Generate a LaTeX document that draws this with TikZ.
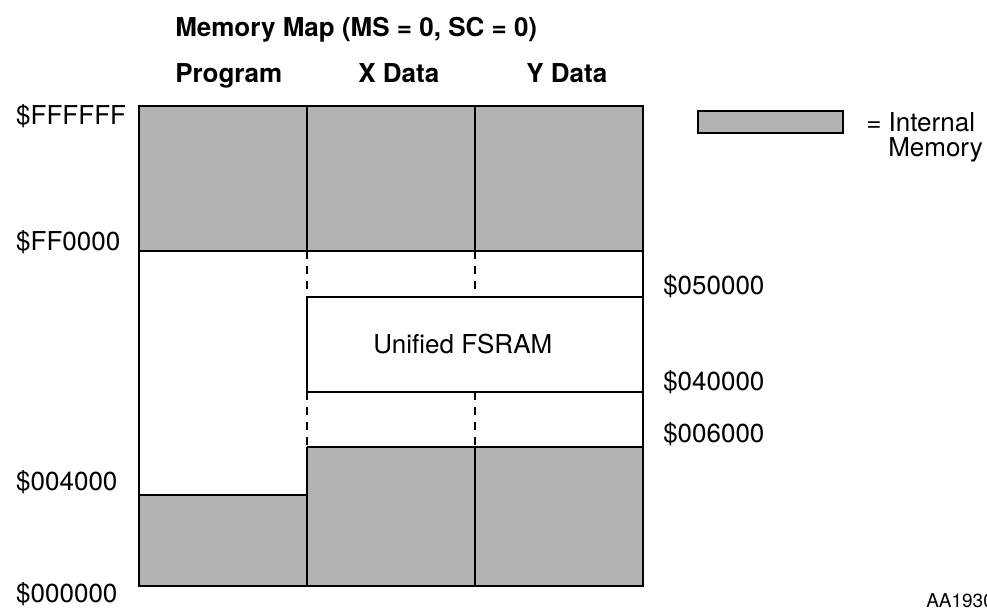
\documentclass[tikz,border=0pt]{standalone}
\usepackage{fontspec}
\setmainfont{TeX Gyre Heros}
\usetikzlibrary{positioning}
\definecolor{memgray}{gray}{0.7}

\begin{document}
\begin{tikzpicture}[x=1pt, y=-1pt, line width=2.5pt, font=\fontsize{26}{30}\selectfont,
	internal/.style={fill=memgray},
	gap/.style={dash pattern=on 8pt off 7pt},
	addr/.style={inner sep=0pt, anchor=base west},
	head/.style={inner sep=0pt, anchor=base west, font=\fontsize{26}{30}\selectfont\bfseries}] 
	\useasboundingbox (0,0) rectangle (987,611);
	
	\coordinate (tl) at (139,106);
	\coordinate (br) at (643,586);
	
	\fill[internal] (139,106) rectangle (643,251);
	\fill[internal] (139,495) rectangle (307,586);
	\fill[internal] (307,447) rectangle (643,586);
	
	\draw (tl) rectangle (br);
	\draw (139,251) -- (643,251);
	\draw (307,106) -- (307,251);
	\draw (475,106) -- (475,251);
	\draw (307,297) rectangle (643,392);
	\draw (307,447) -- (643,447);
	\draw (307,447) -- (307,586);
	\draw (475,447) -- (475,586);
	\draw (139,495) -- (307,495);
	\draw[gap] (307,251) -- (307,297);
	\draw[gap] (475,251) -- (475,297);
	\draw[gap] (307,392) -- (307,447);
	\draw[gap] (475,392) -- (475,447);
	
	\node[head] (title) at (174,36) {Memory Map (MS = 0, SC = 0)};
	\node[head] (prog) at (174,82) {Program};
	\node[head] (xdata) at (357,82) {X Data};
	\node[head] (ydata) at (525,82) {Y Data};
	
	\node[addr] (a0) at (15,124) {\$FFFFFF};
	\node[addr] (a1) at (15,250) {\$FF0000};
	\node[addr] (a2) at (15,490) {\$004000};
	\node[addr] (a3) at (15,602) {\$000000};
	\node[addr] (a4) at (662,294) {\$050000};
	\node[addr] (a5) at (662,390) {\$040000};
	\node[addr] (a6) at (662,442) {\$006000};
	
	\node[addr] (fsram) at (372,353) {Unified FSRAM};
	
	\draw[internal] (698,111) rectangle (843,133);
	\node[addr] (key) at (865,131) {= Internal};
	\node[addr] (keymem) at (887,156) {Memory};
	
	\node[addr, font=\fontsize{19}{22}\selectfont] (fig) at (925,607) {AA1930};
	
\end{tikzpicture}
\end{document}
